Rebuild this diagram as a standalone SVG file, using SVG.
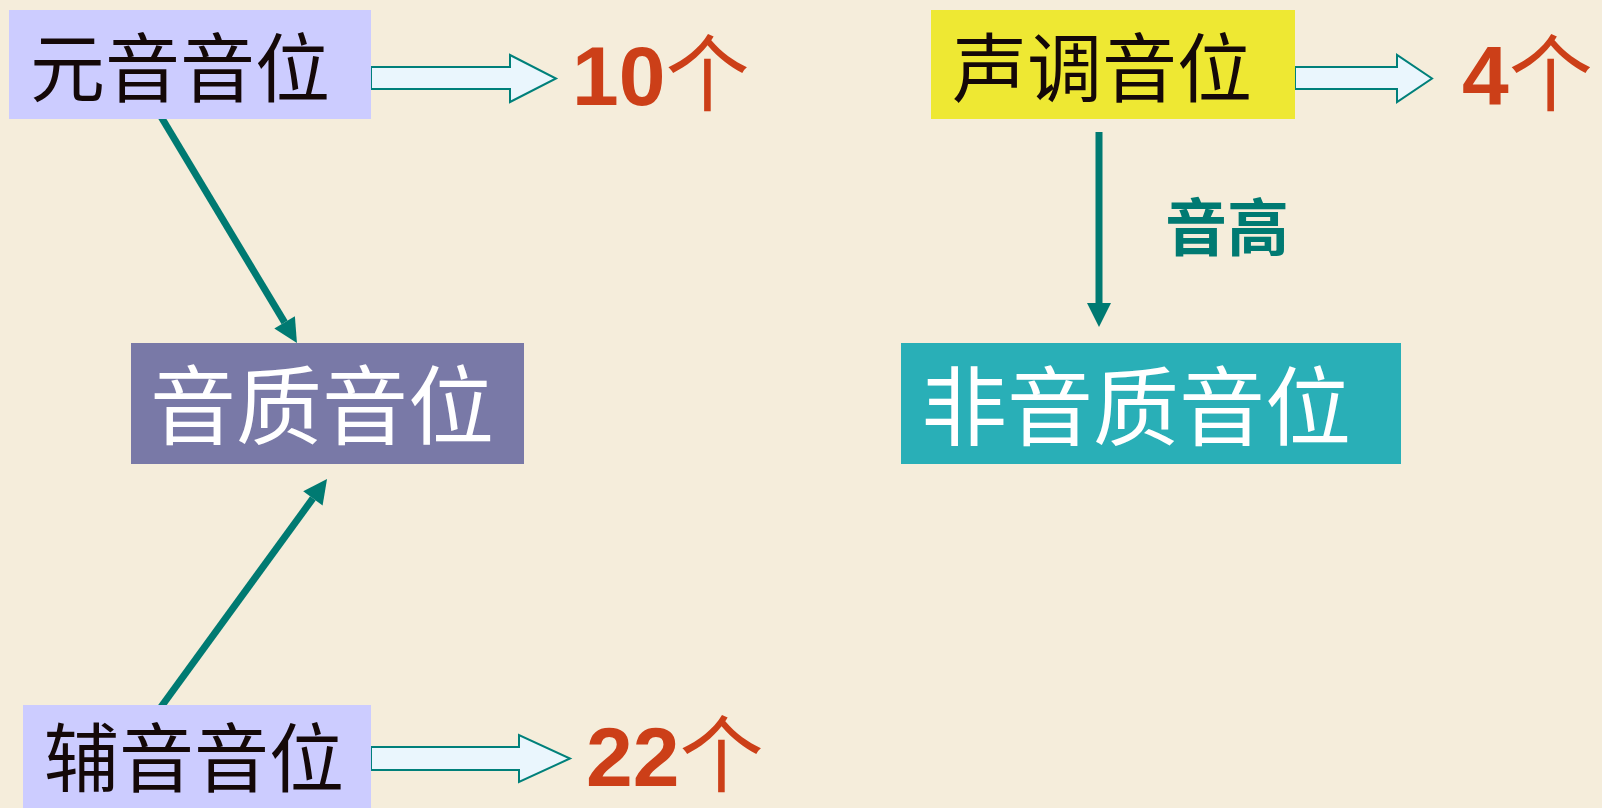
<svg xmlns="http://www.w3.org/2000/svg" width="1602" height="808" viewBox="0 0 1602 808">
<style>
.cjk{font-family:"Noto Sans CJK SC","Noto Sans",sans-serif}
.blk{fill:#140808}
.wht{fill:#ffffff}
.num{font-family:"Liberation Sans",Arial,sans-serif;font-weight:bold;fill:#CC3F18}
.ge{font-family:"Noto Sans CJK SC",sans-serif;font-weight:normal;fill:#CC3F18}
.hollow{fill:#EAF6FD;stroke:#00807A;stroke-width:2;stroke-linejoin:miter}
.conn{stroke:#007A72;stroke-width:7;fill:none}
</style>
<defs>
<marker id="ah" markerUnits="userSpaceOnUse" markerWidth="30" markerHeight="30" refX="0" refY="0" orient="auto" overflow="visible">
<path d="M0,-12 L24,0 L0,12 Z" fill="#007A72"/>
</marker>
</defs>
<rect x="0" y="0" width="1602" height="808" fill="#F5EDDB"/>

<g id="connectors">
<line class="conn" x1="160" y1="115" x2="284.6" y2="322.4" marker-end="url(#ah)"/>
<line class="conn" x1="161" y1="707" x2="312.9" y2="498.4" marker-end="url(#ah)"/>
<line class="conn" x1="1099" y1="132" x2="1099" y2="303" marker-end="url(#ah)"/>
<text class="cjk" x="1165" y="251" font-size="62" font-weight="bold" fill="#007A72">音高</text>
<path class="hollow" d="M371,67 L510,67 L510,55 L556,78.5 L510,102 L510,89 L371,89 Z"/>
<path class="hollow" d="M1295,67 L1397,67 L1397,55 L1432,78.5 L1397,102 L1397,89 L1295,89 Z"/>
<path class="hollow" d="M371,747 L519,747 L519,735 L570,758.5 L519,782 L519,770 L371,770 Z"/>
</g>

<g id="node-yuanyin">
<rect x="9" y="10" width="362" height="109" fill="#CCCCFF"/>
<text class="cjk blk" x="30" y="96" font-size="75">元音音位</text>
</g>
<g id="count-10">
<text x="572" y="105"><tspan class="num" font-size="84">10</tspan><tspan class="ge" font-size="84">个</tspan></text>
</g>

<g id="node-shengdiao">
<rect x="931" y="10" width="364" height="109" fill="#EEE833"/>
<text class="cjk blk" x="952" y="96" font-size="75">声调音位</text>
</g>
<g id="count-4">
<text x="1462" y="105"><tspan class="num" font-size="84">4</tspan><tspan class="ge" font-size="84">个</tspan></text>
</g>

<g id="node-yinzhi">
<rect x="131" y="343" width="393" height="121" fill="#7979A7"/>
<text class="cjk wht" x="150" y="438" font-size="86">音质音位</text>
</g>

<g id="node-feiyinzhi">
<rect x="901" y="343" width="500" height="121" fill="#29AFB7"/>
<text class="cjk wht" x="921" y="439" font-size="86">非音质音位</text>
</g>

<g id="node-fuyin">
<rect x="23" y="705" width="348" height="103" fill="#CCCCFF"/>
<text class="cjk blk" x="44" y="786" font-size="75">辅音音位</text>
</g>
<g id="count-22">
<text x="586" y="786"><tspan class="num" font-size="84">22</tspan><tspan class="ge" font-size="84">个</tspan></text>
</g>
</svg>
